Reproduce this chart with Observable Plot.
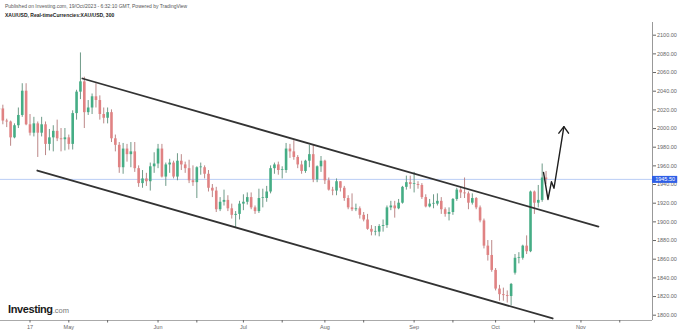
<!DOCTYPE html>
<html><head><meta charset="utf-8">
<script src="https://cdn.jsdelivr.net/npm/d3@7"></script>
<script src="https://cdn.jsdelivr.net/npm/@observablehq/plot@0.6"></script>
<style>
body{margin:0;background:#fff;font-family:"Liberation Sans",Arial,sans-serif;}
#wrap{position:relative;width:680px;height:332px;overflow:hidden;background:#fff}
.hd{position:absolute;left:5px;white-space:nowrap;font-size:5px;line-height:6px}
#h1{top:3px;color:#555}
#h2{top:12px;color:#222;font-weight:bold}
#logo{position:absolute;left:8px;top:301px;white-space:nowrap;line-height:14px}
#logo b{font-size:11px;color:#1a1a1a;letter-spacing:-0.4px}
#logo span{font-size:7.5px;color:#777}
</style></head>
<body><div id="wrap"><div id="chart"></div>
<div class="hd" id="h1">Published on Investing.com, 19/Oct/2023 - 6:32:10 GMT, Powered by TradingView</div>
<div class="hd" id="h2">XAU/USD, Real-timeCurrencies:XAU/USD, 300</div>
<div id="logo"><b>Investing</b><span>.com</span></div>
</div>
<script>
const dates = ["2023-04-05","2023-04-06","2023-04-07","2023-04-10","2023-04-11","2023-04-12","2023-04-13","2023-04-14",
"2023-04-17","2023-04-18","2023-04-19","2023-04-20","2023-04-21","2023-04-24","2023-04-25","2023-04-26","2023-04-27","2023-04-28",
"2023-05-01","2023-05-02","2023-05-03","2023-05-04","2023-05-05","2023-05-08","2023-05-09","2023-05-10","2023-05-11","2023-05-12",
"2023-05-15","2023-05-16","2023-05-17","2023-05-18","2023-05-19","2023-05-22","2023-05-23","2023-05-24","2023-05-25","2023-05-26",
"2023-05-29","2023-05-30","2023-05-31","2023-06-01","2023-06-02","2023-06-05","2023-06-06","2023-06-07","2023-06-08","2023-06-09",
"2023-06-12","2023-06-13","2023-06-14","2023-06-15","2023-06-16","2023-06-19","2023-06-20","2023-06-21","2023-06-22","2023-06-23",
"2023-06-26","2023-06-27","2023-06-28","2023-06-29","2023-06-30","2023-07-03","2023-07-04","2023-07-05","2023-07-06","2023-07-07",
"2023-07-10","2023-07-11","2023-07-12","2023-07-13","2023-07-14","2023-07-17","2023-07-18","2023-07-19","2023-07-20","2023-07-21",
"2023-07-24","2023-07-25","2023-07-26","2023-07-27","2023-07-28","2023-07-31","2023-08-01","2023-08-02","2023-08-03","2023-08-04",
"2023-08-07","2023-08-08","2023-08-09","2023-08-10","2023-08-11","2023-08-14","2023-08-15","2023-08-16","2023-08-17","2023-08-18",
"2023-08-21","2023-08-22","2023-08-23","2023-08-24","2023-08-25","2023-08-28","2023-08-29","2023-08-30","2023-08-31","2023-09-01",
"2023-09-04","2023-09-05","2023-09-06","2023-09-07","2023-09-08","2023-09-11","2023-09-12","2023-09-13","2023-09-14","2023-09-15",
"2023-09-18","2023-09-19","2023-09-20","2023-09-21","2023-09-22","2023-09-25","2023-09-26","2023-09-27","2023-09-28","2023-09-29",
"2023-10-02","2023-10-03","2023-10-04","2023-10-05","2023-10-06","2023-10-09","2023-10-10","2023-10-11","2023-10-12","2023-10-13",
"2023-10-16","2023-10-17","2023-10-18","2023-10-19"];
const opens = [2020,2021,2008,2007,1990,2003,2014,2040,
2004,1995,2005,1995,2004,1983,1990,1997,1989,1988,
1990,1983,2016,2039,2050,2017,2022,2034,2030,2015,
2011,2017,1989,1982,1958,1978,1972,1975,1957,1941,
1946,1943,1959,1962,1978,1948,1961,1963,1948,1965,
1961,1957,1944,1942,1958,1958,1951,1936,1933,1913,
1921,1923,1914,1907,1908,1919,1921,1926,1915,1911,
1925,1925,1932,1957,1961,1955,1955,1978,1975,1969,
1961,1954,1965,1972,1945,1959,1965,1944,1934,1933,
1943,1936,1925,1915,1913,1914,1907,1902,1892,1889,
1889,1895,1896,1915,1917,1914,1920,1937,1942,1940,
1940,1939,1926,1916,1919,1919,1922,1913,1908,1910,
1924,1934,1931,1930,1920,1925,1915,1901,1874,1864,
1848,1828,1822,1821,1820,1845,1861,1861,1874,1868,
1932,1920,1923,1947];
const highs = [2032,2025,2010,2008,2005,2022,2048,2048,
2015,2012,2007,2012,2007,1999,2003,2009,2000,2000,
1993,2019,2041,2081,2055,2030,2037,2048,2035,2022,
2022,2020,1993,1985,1984,1983,1985,1985,1960,1955,
1952,1963,1974,1983,1983,1963,1967,1965,1973,1972,
1964,1966,1960,1959,1963,1960,1955,1940,1937,1926,
1934,1928,1919,1911,1922,1929,1931,1931,1917,1935,
1935,1938,1960,1963,1964,1959,1984,1983,1987,1971,
1965,1966,1982,1982,1960,1970,1966,1947,1937,1946,
1943,1938,1928,1930,1919,1916,1910,1908,1896,1895,
1897,1902,1917,1922,1922,1924,1938,1949,1949,1953,
1943,1941,1929,1924,1929,1930,1926,1915,1915,1925,
1936,1937,1947,1932,1930,1926,1917,1903,1880,1880,
1850,1832,1829,1826,1834,1865,1867,1875,1885,1933,
1933,1939,1962,1954];
const lows = [2011,2004,2001,1981,1989,2000,2012,2003,
1992,1991,1969,1991,1971,1976,1975,1986,1975,1976,
1977,1977,2009,2031,2000,2014,2015,2022,2009,2005,
2005,1985,1975,1952,1951,1964,1958,1953,1937,1936,
1938,1933,1952,1957,1947,1938,1952,1946,1944,1955,
1952,1941,1938,1925,1950,1946,1932,1926,1910,1911,
1917,1911,1903,1893,1902,1912,1918,1913,1908,1909,
1915,1921,1930,1951,1950,1946,1952,1968,1966,1957,
1951,1952,1958,1942,1942,1953,1940,1933,1928,1928,
1932,1922,1913,1911,1911,1903,1900,1891,1885,1885,
1884,1889,1893,1912,1904,1913,1919,1934,1935,1931,
1935,1924,1915,1915,1914,1917,1908,1905,1901,1907,
1922,1925,1925,1913,1918,1913,1899,1871,1858,1846,
1826,1815,1815,1813,1810,1843,1855,1859,1865,1867,
1908,1915,1921,1940];
const closes = [2021,2008,2007,1990,2003,2014,2040,2004,
1995,2005,1995,2004,1983,1990,1997,1989,1988,1990,
1983,2016,2039,2050,2017,2022,2034,2030,2015,2011,
2017,1989,1982,1958,1978,1972,1975,1957,1941,1946,
1943,1959,1962,1978,1948,1961,1963,1948,1965,1961,
1957,1944,1942,1958,1958,1951,1936,1933,1913,1921,
1923,1914,1907,1908,1919,1921,1926,1915,1911,1925,
1925,1932,1957,1961,1955,1955,1978,1975,1969,1961,
1954,1965,1972,1945,1959,1965,1944,1934,1933,1943,
1936,1925,1915,1913,1914,1907,1902,1892,1889,1889,
1895,1896,1915,1917,1914,1920,1937,1942,1940,1940,
1939,1926,1916,1919,1919,1922,1913,1908,1910,1924,
1934,1931,1930,1920,1925,1915,1901,1874,1864,1848,
1828,1822,1821,1820,1833,1861,1861,1874,1868,1932,
1920,1923,1947,1945.5];
const lastPrice = 1945.5;

// x-axis ticks (dates) and their labels ("" = unlabeled tick)
const tickDates = ["2023-04-17","2023-05-01","2023-05-15","2023-06-01","2023-06-15","2023-07-03","2023-07-17","2023-08-01","2023-08-15","2023-09-01","2023-09-15","2023-10-02","2023-10-16","2023-11-01","2023-11-15"];
const tickLabels = ["17","May","","Jun","","Jul","","Aug","","Sep","","Oct","","Nov",""];
const yTicks = [1800,1820,1840,1860,1880,1900,1920,1940,1960,1980,2000,2020,2040,2060,2080,2100];

// drawn annotations, in bar index (trading days after 17 Apr) and price
const upperChannel = [{bar:13.5, price:2053.6},{bar:146.5, price:1895.0}];
const lowerChannel = [{bar:1.9, price:1955.0},{bar:134.7, price:1796.5}];
const zigzag = [{bar:132.35, price:1953},{bar:133.5, price:1924},{bar:134.4, price:1943},{bar:135.05, price:1936},{bar:137.6, price:2002}];
const arrowHead = [{bar:136.3, price:1995},{bar:137.6, price:2002},{bar:138.8, price:1995}];

const base = Date.UTC(2023,3,17);
function barIndex(s){
  const [y,m,d] = s.split("-").map(Number);
  const t = Date.UTC(y,m-1,d); let n = 0;
  if (t >= base) { for (let u=base; u<t; u+=864e5){const w=new Date(u).getUTCDay(); if(w!==0&&w!==6) n++;} }
  else { for (let u=t; u<base; u+=864e5){const w=new Date(u).getUTCDay(); if(w!==0&&w!==6) n--;} }
  return n;
}
const candles = dates.map((d,i)=>({bar:barIndex(d), open:opens[i], high:highs[i], low:lows[i], close:closes[i]}));
const tickBars = tickDates.map(barIndex);
const labelMap = new Map(tickBars.map((b,i)=>[b,tickLabels[i]]));

const W=680, H=332, mL=0, mR=28, mT=22, mB=12;
const pxPerBar = 3.88, bar0px = 29.5;
const xDom = [(mL-bar0px)/pxPerBar, (W-mR-bar0px)/pxPerBar];
const yDom = [1794.32, 2113.6];
const UP="#45ad85", DN="#e08283", UPW="#5e8f7a", DNW="#b47a7a";
const isUp = d => d.close >= d.open;

const chart = Plot.plot({
  width: W, height: H, marginLeft: mL, marginRight: mR, marginTop: mT, marginBottom: mB,
  style: {fontFamily: "Liberation Sans, Arial, sans-serif", background: "transparent", overflow: "visible"},
  x: {type: "linear", domain: xDom, label: null},
  y: {domain: yDom, label: null},
  marks: [
    Plot.ruleY([lastPrice], {x1: () => xDom[0], x2: () => xDom[1], stroke: "#a9c1f3", strokeWidth: 0.8}),
    Plot.ruleX(candles, {x: "bar", y1: "low", y2: "high", stroke: d => isUp(d) ? UPW : DNW, strokeWidth: 0.9}),
    Plot.ruleX(candles, {x: "bar", y1: "open", y2: d => Math.abs(d.close-d.open) < 0.8 ? d.open + 0.8 : d.close,
      stroke: d => isUp(d) ? UP : DN, strokeWidth: 2.6}),
    Plot.line(upperChannel, {x: "bar", y: "price", stroke: "#333", strokeWidth: 1.8}),
    Plot.line(lowerChannel, {x: "bar", y: "price", stroke: "#333", strokeWidth: 1.8}),
    Plot.line(zigzag, {x: "bar", y: "price", stroke: "#1e1e1e", strokeWidth: 1.4}),
    Plot.line(arrowHead, {x: "bar", y: "price", stroke: "#1e1e1e", strokeWidth: 1.4}),
    Plot.ruleX([xDom[1]], {y1: () => yDom[0], y2: () => yDom[1], stroke: "#999", strokeWidth: 1}),
    Plot.ruleY([yDom[0]], {x1: () => xDom[0], x2: () => xDom[1], stroke: "#aaa", strokeWidth: 1}),
    Plot.axisY({anchor: "right", label: null, ticks: yTicks, tickFormat: d => d.toFixed(2), tickSize: 3, tickPadding: 1.5, fontSize: 5.5, color: "#666"}),
    Plot.axisX({anchor: "bottom", label: null, ticks: tickBars, tickFormat: d => labelMap.get(d), tickSize: 2.5, tickPadding: 2, fontSize: 5.5, color: "#666"}),
    Plot.ruleY([lastPrice], {x1: () => xDom[1], x2: () => xDom[1] + 6.5, stroke: "#2f5fe6", strokeWidth: 7}),
    Plot.text([lastPrice], {x: () => xDom[1] + 3.25, y: d => d, text: d => d.toFixed(2), fill: "white", fontSize: 5.5})
  ]
});
document.getElementById("chart").appendChild(chart);
</script>
</body></html>
